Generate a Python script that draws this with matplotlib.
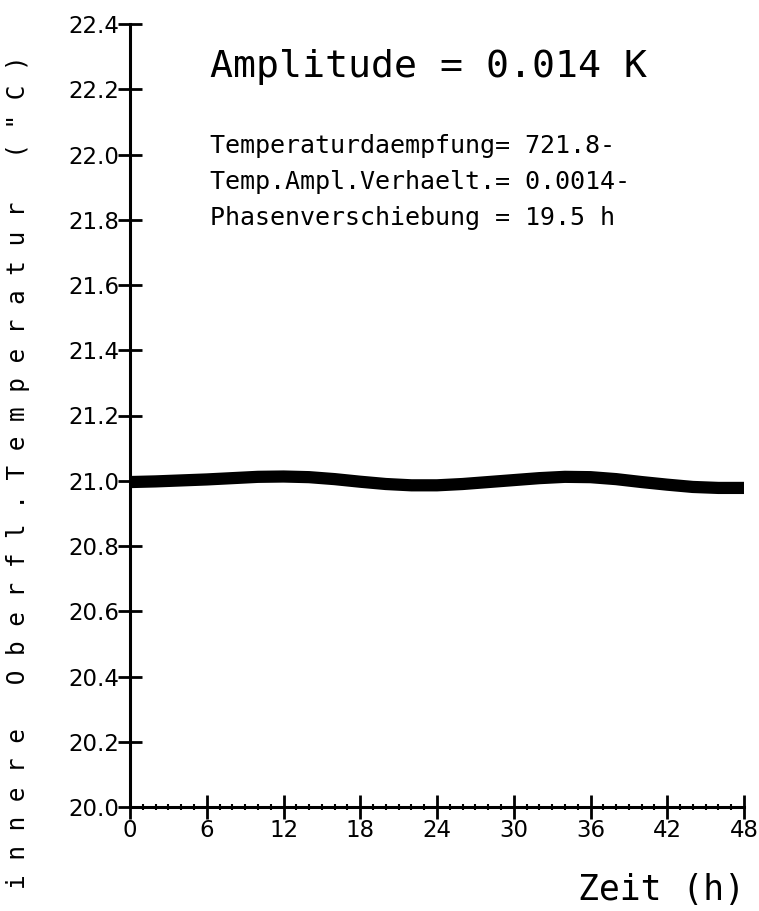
import numpy as np
from matplotlib import pyplot as plt
from matplotlib.ticker import MultipleLocator

# data
zeit = [0, 2, 4, 6, 8, 10, 12, 14, 16, 18, 20, 22, 24,
        26, 28, 30, 32, 34, 36, 38, 40, 42, 44, 46, 48]
temp = [20.996, 20.998, 21.001, 21.004, 21.008, 21.012, 21.013, 21.011, 21.005,
        20.997, 20.990, 20.986, 20.986, 20.990, 20.996, 21.002, 21.008, 21.012,
        21.011, 21.005, 20.996, 20.988, 20.981, 20.978, 20.978]
x_ticks = [0, 6, 12, 18, 24, 30, 36, 42, 48]
y_ticks = [20.0, 20.2, 20.4, 20.6, 20.8, 21.0, 21.2, 21.4, 21.6, 21.8, 22.0, 22.2, 22.4]

titel = "Amplitude = 0.014 K"
info = ["Temperaturdaempfung= 721.8-",
        "Temp.Ampl.Verhaelt.= 0.0014-",
        "Phasenverschiebung = 19.5 h"]
ylab = 'innere Oberfl.Temperatur ("C)'
xlab = "Zeit (h)"

mono = ["DejaVu Sans Mono"]

fig = plt.figure(figsize=(7.59, 9.11), dpi=100)
ax = fig.add_axes([130/759, 1 - 807/911, 614/759, 783/911])

ax.plot(zeit, temp, color="black", lw=8.8, solid_capstyle="butt", solid_joinstyle="round")

ax.set_xlim(0, 48)
ax.set_ylim(20.0, 22.4)
ax.set_xticks(x_ticks)
ax.set_xticklabels([str(v) for v in x_ticks])
ax.set_yticks(y_ticks)
ax.set_yticklabels(["%.1f" % v for v in y_ticks])
ax.xaxis.set_minor_locator(MultipleLocator(1))

for s in ["top", "right"]:
    ax.spines[s].set_visible(False)
for s in ["left", "bottom"]:
    ax.spines[s].set_linewidth(2.2)

ax.tick_params(which="major", direction="inout", length=17, width=2.0)
ax.tick_params(which="minor", direction="inout", length=4, width=1.5)
ax.tick_params(axis="y", which="major", pad=-1)
ax.tick_params(axis="x", which="major", pad=0)
for lab in ax.get_yticklabels() + ax.get_xticklabels():
    lab.set_fontsize(16.5)

# labels, letter-spaced like the plotter output
fig.text(18/759, 1 - 472/911, " ".join(ylab), rotation=90, ha="center", va="center",
         family=mono, fontsize=17.6)
fig.text(745/759, 1 - 890/911, xlab, ha="right", va="center", family=mono, fontsize=25)

fig.text(210/759, 1 - 67/911, titel, ha="left", va="center", family=mono, fontsize=27.5)
for i, line in enumerate(info):
    fig.text(210/759, 1 - (146 + 36*i)/911, line, ha="left", va="center",
             family=mono, fontsize=18)

fig.savefig("out.png", dpi=100, facecolor="white")
